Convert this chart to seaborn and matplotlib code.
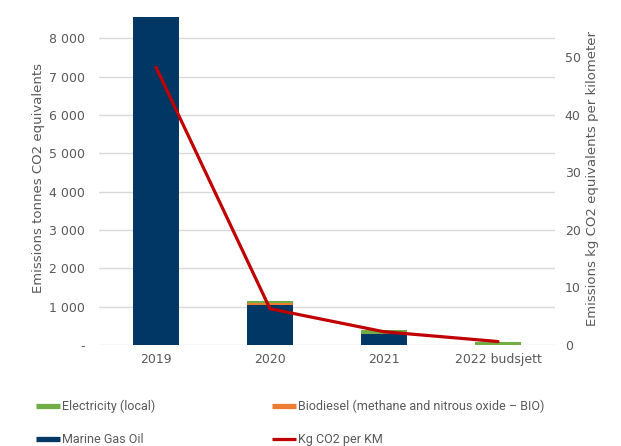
import matplotlib
matplotlib.use("Agg")
import matplotlib.pyplot as plt
from matplotlib.lines import Line2D
from matplotlib.ticker import FuncFormatter, MultipleLocator
import seaborn as sns
import pandas as pd
import numpy as np

years = ["2019", "2020", "2021", "2022 budsjett"]
marine_gas_oil = [8550, 1030, 280, 0]
biodiesel = [0, 60, 10, 0]
electricity = [0, 70, 100, 90]
kg_co2_per_km = [48.3, 6.3, 2.3, 0.6]

c_mgo = "#003764"
c_bio = "#ED7D31"
c_el = "#70AD47"
c_line = "#C00000"
c_text = "#595959"
c_grid = "#D9D9D9"

sns.set_theme(style="white")
plt.rcParams["font.family"] = ["DejaVu Sans"]

fig = plt.figure(figsize=(6.21, 4.46), dpi=100)
ax = fig.add_axes([0.1594, 0.2265, 0.7343, 0.7479])

df = pd.DataFrame({"year": years, "mgo": marine_gas_oil,
                   "bio": biodiesel, "el": electricity})
bottom_bio = np.array(marine_gas_oil)
bottom_el = bottom_bio + np.array(biodiesel)

sns.barplot(data=df, x="year", y="mgo", color=c_mgo, width=0.4,
            saturation=1, linewidth=0, ax=ax, zorder=2)
sns.barplot(data=df, x="year", y="bio", color=c_bio, width=0.4,
            saturation=1, linewidth=0, ax=ax, bottom=bottom_bio, zorder=2)
sns.barplot(data=df, x="year", y="el", color=c_el, width=0.4,
            saturation=1, linewidth=0, ax=ax, bottom=bottom_el, zorder=2)

ax.set_ylim(0, 8700)
ax.set_xlim(-0.5, 3.5)
ax.yaxis.set_major_locator(MultipleLocator(1000))
ax.yaxis.set_major_formatter(FuncFormatter(
    lambda v, p: "-" if v == 0 else f"{int(v):,}".replace(",", " ")))
ax.grid(axis="y", color=c_grid, linewidth=1, zorder=0)
ax.set_axisbelow(True)
for s in ax.spines.values():
    s.set_visible(False)
ax.tick_params(axis="both", length=0, labelsize=9, colors=c_text, pad=6)
ax.tick_params(axis="y", pad=10)
ax.set_xlabel("")
ax.set_ylabel("Emissions tonnes CO2 equivalents", fontsize=9.5, color=c_text, labelpad=3)

ax2 = ax.twinx()
sns.lineplot(x=np.arange(len(years)), y=kg_co2_per_km, color=c_line,
             linewidth=2.3, ax=ax2, zorder=3)
ax2.set_ylim(0, 58)
ax2.yaxis.set_major_locator(MultipleLocator(10))
ax2.yaxis.set_major_formatter(FuncFormatter(lambda v, p: f"{int(v)}"))
ax2.set_xlim(-0.5, 3.5)
ax2.grid(False)
for s in ax2.spines.values():
    s.set_visible(False)
ax2.tick_params(axis="y", length=0, labelsize=9, colors=c_text, pad=7)
ax2.set_ylabel("Emissions kg CO2 equivalents per kilometer", fontsize=9.5,
               color=c_text, labelpad=4)

leg_font = {"family": ["Roboto", "DejaVu Sans"], "size": 9}
h_el = Line2D([], [], color=c_el, linewidth=3.8, solid_capstyle="butt")
h_mgo = Line2D([], [], color=c_mgo, linewidth=3.8, solid_capstyle="butt")
h_bio = Line2D([], [], color=c_bio, linewidth=3.8, solid_capstyle="butt")
h_line = Line2D([], [], color=c_line, linewidth=2.3, solid_capstyle="butt")

common = dict(frameon=False, prop=leg_font, handlelength=1.95, handletextpad=0.15,
              labelspacing=1.6, borderaxespad=0, borderpad=0, labelcolor=c_text,
              loc="upper left")
leg1 = fig.legend([h_el, h_mgo], ["Electricity (local)", "Marine Gas Oil"],
                  bbox_to_anchor=(36 / 621, 1 - 400 / 446), **common)
leg2 = fig.legend([h_bio, h_line], ["Biodiesel (methane and nitrous oxide \u2013 BIO)", "Kg CO2 per KM"],
                  bbox_to_anchor=(272 / 621, 1 - 400 / 446), **common)

fig.savefig("out.png", dpi=100)
